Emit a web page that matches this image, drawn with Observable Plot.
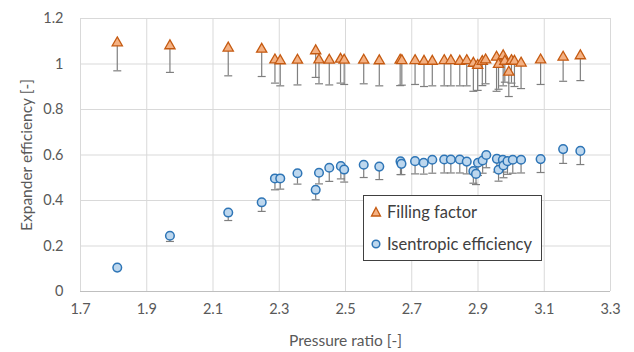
<!DOCTYPE html>
<html>
<head>
<meta charset="utf-8">
<script src="https://cdn.jsdelivr.net/npm/d3@7"></script>
<script src="https://cdn.jsdelivr.net/npm/@observablehq/plot@0.6"></script>
<style>
  html, body { margin: 0; padding: 0; background: #fff; }
  #wrap { position: relative; width: 634px; height: 352px; font-family: Lato, "Open Sans", sans-serif; }
  #legend { position: absolute; left: 363px; top: 195px; width: 179px; height: 66px; border: 1px solid #404040; background: #fff; box-sizing: border-box; font-size: 16.5px; color: #404040; }
  #legend .row { position: absolute; left: 6px; display: flex; align-items: center; gap: 5px; }
  #legend svg { display: block; }
  g[aria-label="x-axis label"] text, g[aria-label="y-axis label"] text { font-size: 15.5px; }
</style>
</head>
<body>
<div id="wrap">
  <div id="chart"></div>
  <div id="legend">
    <div class="row" style="top:6px"><svg width="12" height="12"><path d="M6,1.5L10.5,10L1.5,10Z" fill="#f4b183" stroke="#c55a11" stroke-width="1.3"/></svg><span>Filling factor</span></div>
    <div class="row" style="top:38px"><svg width="12" height="12"><circle cx="6" cy="6" r="3.8" fill="#bdd7ee" stroke="#2e75b6" stroke-width="1.5"/></svg><span>Isentropic efficiency</span></div>
  </div>
</div>
<script>
// Filling factor (triangles)
const ffX  = [1.811, 1.970, 2.146, 2.247, 2.287, 2.303, 2.355, 2.410, 2.420, 2.451, 2.485, 2.496, 2.555, 2.602, 2.665, 2.670, 2.710, 2.737, 2.762, 2.798, 2.818, 2.845, 2.866, 2.886, 2.899, 2.913, 2.923, 2.956, 2.962, 2.976, 2.981, 2.993, 3.001, 3.010, 3.030, 3.089, 3.157, 3.209];
const ffY  = [1.093, 1.080, 1.070, 1.065, 1.018, 1.014, 1.017, 1.058, 1.018, 1.017, 1.021, 1.017, 1.017, 1.014, 1.017, 1.015, 1.015, 1.012, 1.012, 1.015, 1.015, 1.012, 1.015, 1.003, 0.994, 1.011, 1.018, 1.030, 0.998, 1.036, 1.012, 0.964, 1.015, 1.012, 1.004, 1.018, 1.030, 1.036];
const ffLo = [0.970, 0.963, 0.948, 0.945, 0.916, 0.904, 0.908, 0.941, 0.913, 0.908, 0.916, 0.910, 0.913, 0.904, 0.905, 0.907, 0.910, 0.901, 0.904, 0.904, 0.904, 0.904, 0.904, 0.880, 0.884, 0.905, 0.913, 0.880, 0.889, 0.904, 0.920, 0.857, 0.916, 0.901, 0.892, 0.910, 0.924, 0.927];
// Isentropic efficiency (circles)
const ieX  = [1.811, 1.970, 2.146, 2.247, 2.287, 2.303, 2.355, 2.410, 2.420, 2.451, 2.486, 2.496, 2.555, 2.602, 2.666, 2.669, 2.710, 2.736, 2.762, 2.798, 2.818, 2.845, 2.866, 2.886, 2.894, 2.900, 2.914, 2.925, 2.957, 2.962, 2.975, 2.977, 2.989, 3.005, 3.030, 3.089, 3.157, 3.209];
const ieY  = [0.105, 0.245, 0.347, 0.392, 0.497, 0.497, 0.520, 0.447, 0.522, 0.544, 0.551, 0.536, 0.557, 0.549, 0.572, 0.561, 0.573, 0.566, 0.579, 0.580, 0.580, 0.580, 0.571, 0.529, 0.517, 0.566, 0.576, 0.600, 0.583, 0.535, 0.579, 0.554, 0.573, 0.579, 0.579, 0.582, 0.626, 0.618];
const ieLo = [null, 0.220, 0.312, 0.352, 0.447, 0.450, 0.472, 0.403, 0.473, 0.484, 0.495, 0.481, 0.501, 0.492, 0.514, 0.514, 0.517, 0.516, 0.520, 0.521, 0.521, 0.521, 0.517, 0.476, 0.470, 0.510, 0.520, 0.544, 0.525, 0.485, 0.525, 0.500, 0.515, 0.520, 0.521, 0.523, 0.563, 0.558];
const xTicks = [1.7, 1.9, 2.1, 2.3, 2.5, 2.7, 2.9, 3.1, 3.3];
const yTicks = [0, 0.2, 0.4, 0.6, 0.8, 1.0, 1.2];

const ff = ffX.map((x, i) => ({x, y: ffY[i], lo: ffLo[i]}));
const ie = ieX.map((x, i) => ({x, y: ieY[i], lo: ieLo[i]}));
const ieBars = ie.filter(d => d.lo != null);

const capSymbol = { draw(ctx, size) { ctx.moveTo(-4, 0); ctx.lineTo(4, 0); } };
const barColor = "#7f7f7f";

const chart = Plot.plot({
  width: 634,
  height: 352,
  marginLeft: 80,
  marginRight: 24,
  marginTop: 18,
  marginBottom: 61,
  style: { fontFamily: "Lato, 'Open Sans', sans-serif", fontSize: "14.5px", color: "#595959", background: "#fff" },
  x: { domain: [1.7, 3.3], ticks: xTicks, tickFormat: d => d.toFixed(1), tickSize: 0, tickPadding: 12, label: "Pressure ratio [-]", labelArrow: "none", labelAnchor: "center", labelOffset: 54 },
  y: { domain: [0, 1.2], ticks: yTicks, tickFormat: d => d === 0 ? "0" : d === 1 ? "1" : String(d), tickSize: 0, tickPadding: 17, label: "Expander efficiency [-]", labelArrow: "none", labelAnchor: "center", labelOffset: 60 },
  marks: [
    Plot.gridX(xTicks, { stroke: "#d9d9d9", strokeOpacity: 1 }),
    Plot.gridY(yTicks, { stroke: "#d9d9d9", strokeOpacity: 1 }),
    Plot.ruleY([0], { stroke: "#bfbfbf" }),
    Plot.ruleX(ff, { x: "x", y1: "lo", y2: "y", stroke: barColor, strokeWidth: 1.2 }),
    Plot.dot(ff, { x: "x", y: "lo", symbol: capSymbol, stroke: barColor, strokeWidth: 1.2, fill: "none" }),
    Plot.ruleX(ieBars, { x: "x", y1: "lo", y2: "y", stroke: barColor, strokeWidth: 1.2 }),
    Plot.dot(ieBars, { x: "x", y: "lo", symbol: capSymbol, stroke: barColor, strokeWidth: 1.2, fill: "none" }),
    Plot.dot(ff, { x: "x", y: "y", symbol: "triangle", r: 3.8, fill: "#f4b183", stroke: "#c55a11", strokeWidth: 1.3 }),
    Plot.dot(ie, { x: "x", y: "y", symbol: "circle", r: 4.3, fill: "#bdd7ee", stroke: "#2e75b6", strokeWidth: 1.5 })
  ]
});
document.getElementById("chart").appendChild(chart);
</script>
</body>
</html>
